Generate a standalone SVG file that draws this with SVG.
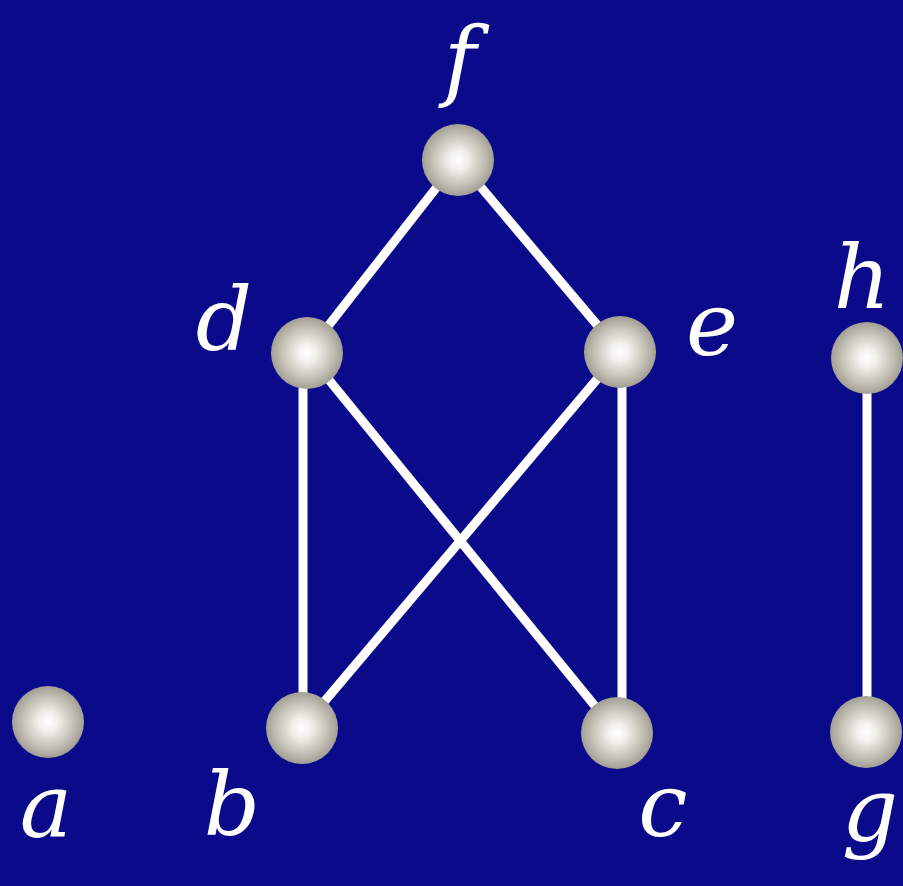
<svg xmlns="http://www.w3.org/2000/svg" width="903" height="886" viewBox="0 0 903 886">
<defs>
<radialGradient id="ball" cx="0.5" cy="0.5" r="0.5" fx="0.5" fy="0.5">
<stop offset="0" stop-color="#ffffff"/>
<stop offset="0.25" stop-color="#f2f1ec"/>
<stop offset="0.7" stop-color="#c4c2b6"/>
<stop offset="1" stop-color="#a19f94"/>
</radialGradient>
<style>
.edge{stroke:#ffffff;stroke-width:9;stroke-linecap:butt}
.node{fill:url(#ball)}
</style>
</defs>
<rect x="0" y="0" width="903" height="886" fill="#0a0a8a"/>
<g id="connectors">
<line class="edge" x1="458" y1="160" x2="307" y2="353"/>
<line class="edge" x1="458" y1="160" x2="620" y2="352"/>
<line class="edge" x1="303" y1="353" x2="303" y2="728"/>
<line class="edge" x1="307" y1="353" x2="617" y2="733"/>
<line class="edge" x1="620" y1="352" x2="302" y2="728"/>
<line class="edge" x1="622" y1="352" x2="622" y2="733"/>
<line class="edge" x1="867" y1="358" x2="867" y2="732"/>
</g>
<g font-family="DejaVu Serif" font-style="italic" font-size="88" fill="#ffffff" text-anchor="middle">
<g id="node-f"><circle class="node" cx="458" cy="160" r="36"/><text x="460" y="90">f</text></g>
<g id="node-d"><circle class="node" cx="307" cy="353" r="36"/><text x="224" y="350">d</text></g>
<g id="node-e"><circle class="node" cx="620" cy="352" r="36"/><text x="712" y="355">e</text></g>
<g id="node-h"><circle class="node" cx="867" cy="358" r="36"/><text x="862" y="308">h</text></g>
<g id="node-a"><circle class="node" cx="48" cy="722" r="36"/><text x="46" y="837">a</text></g>
<g id="node-b"><circle class="node" cx="302" cy="728" r="36"/><text x="232" y="835">b</text></g>
<g id="node-c"><circle class="node" cx="617" cy="733" r="36"/><text x="663" y="836">c</text></g>
<g id="node-g"><circle class="node" cx="866" cy="732" r="36"/><text x="870" y="840">g</text></g>
</g>
</svg>
